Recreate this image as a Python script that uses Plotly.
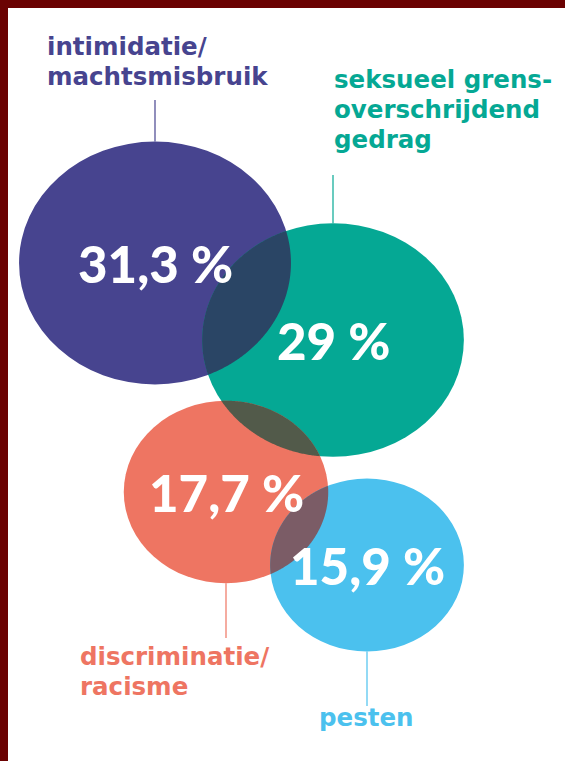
import numpy as np
import plotly.graph_objects as go

# ---- data ----
categories = ["intimidatie/machtsmisbruik", "seksueel grensoverschrijdend gedrag",
              "discriminatie/racisme", "pesten"]
values = [31.3, 29.0, 17.7, 15.9]
value_labels = ["31,3 %", "29 %", "17,7 %", "15,9 %"]
label_lines = [["intimidatie/", "machtsmisbruik"],
               ["seksueel grens-", "overschrijdend", "gedrag"],
               ["discriminatie/", "racisme"],
               ["pesten"]]

# ---- layout / style ----
W, H = 565, 761
colors = ["#47448f", "#05a894", "#ee7562", "#4bc1ee"]
overlap_colors = {(0, 1): "#2a4565", (1, 2): "#525a4a", (2, 3): "#7b5c66"}
centers = [(155, 263), (333, 340), (226, 492), (367, 565)]
KX, KY = 24.3, 21.7          # px per sqrt(value) unit (horizontal / vertical radius)
label_pos = [(45, 55, "left"), (332, 88, "left"), (78, 665, "left"), (366, 726, "center")]
leader_end = [100, 175, 638, 706]   # y where the leader line meets the label
LINE_H = 30
LABEL_FS = 24.5
PCT_FS = 51
BORDER = "#6b0202"

radii = [(KX * np.sqrt(v), KY * np.sqrt(v)) for v in values]

fig = go.Figure()
shapes = []
annotations = []

# circles
for (cx, cy), (rx, ry), c in zip(centers, radii, colors):
    shapes.append(dict(type="circle", xref="x", yref="y",
                       x0=cx - rx, x1=cx + rx, y0=cy - ry, y1=cy + ry,
                       fillcolor=c, line=dict(width=0), layer="below"))


def inside(px, py, i):
    cx, cy = centers[i]
    rx, ry = radii[i]
    return ((px - cx) / rx) ** 2 + ((py - cy) / ry) ** 2 <= 1.0


def boundary(i, n=720):
    t = np.linspace(0, 2 * np.pi, n, endpoint=False)
    cx, cy = centers[i]
    rx, ry = radii[i]
    return cx + rx * np.cos(t), cy + ry * np.sin(t)


# overlap lenses
for (a, b), col in overlap_colors.items():
    ax_, ay_ = boundary(a)
    bx_, by_ = boundary(b)
    ma = inside(ax_, ay_, b)
    mb = inside(bx_, by_, a)
    px = np.concatenate([ax_[ma], bx_[mb]])
    py = np.concatenate([ay_[ma], by_[mb]])
    if len(px) < 3:
        continue
    mx, my = px.mean(), py.mean()
    order = np.argsort(np.arctan2(py - my, px - mx))
    px, py = px[order], py[order]
    path = "M " + " L ".join(f"{x:.2f},{y:.2f}" for x, y in zip(px, py)) + " Z"
    shapes.append(dict(type="path", xref="x", yref="y", path=path,
                       fillcolor=col, line=dict(width=0), layer="below"))

# leader lines
for i, ((cx, cy), (rx, ry), c, ye) in enumerate(zip(centers, radii, colors, leader_end)):
    edge = cy - ry if ye < cy else cy + ry
    shapes.append(dict(type="line", xref="x", yref="y", x0=cx, x1=cx, y0=edge, y1=ye,
                       line=dict(color=c, width=1.2)))

# border
shapes.append(dict(type="rect", xref="x", yref="y", x0=0, x1=8, y0=0, y1=H,
                   fillcolor=BORDER, line=dict(width=0)))
shapes.append(dict(type="rect", xref="x", yref="y", x0=0, x1=W, y0=0, y1=8,
                   fillcolor=BORDER, line=dict(width=0)))

# percentages
for (cx, cy), txt in zip(centers, value_labels):
    annotations.append(dict(x=cx, y=cy, xref="x", yref="y", text=txt, showarrow=False,
                            xanchor="center", yanchor="middle",
                            font=dict(family="Lato", size=PCT_FS, color="white", weight=900)))

# category labels
for lines, (lx, ly, anchor), c in zip(label_lines, label_pos, colors):
    for k, line in enumerate(lines):
        base = ly + k * LINE_H
        annotations.append(dict(x=lx, y=base - 0.33 * LABEL_FS, xref="x", yref="y", text=line,
                                showarrow=False, xanchor=anchor, yanchor="middle",
                                font=dict(family="DejaVu Sans", size=LABEL_FS, color=c,
                                          weight="bold")))

fig.update_layout(
    width=W, height=H, margin=dict(l=0, r=0, t=0, b=0),
    paper_bgcolor="white", plot_bgcolor="white",
    xaxis=dict(range=[0, W], visible=False, fixedrange=True),
    yaxis=dict(range=[H, 0], visible=False, fixedrange=True),
    shapes=shapes, annotations=annotations, showlegend=False,
)
fig.write_html("out.html", config=dict(displayModeBar=False),
               post_script="document.body.style.margin='0';document.body.style.overflow='hidden';")
